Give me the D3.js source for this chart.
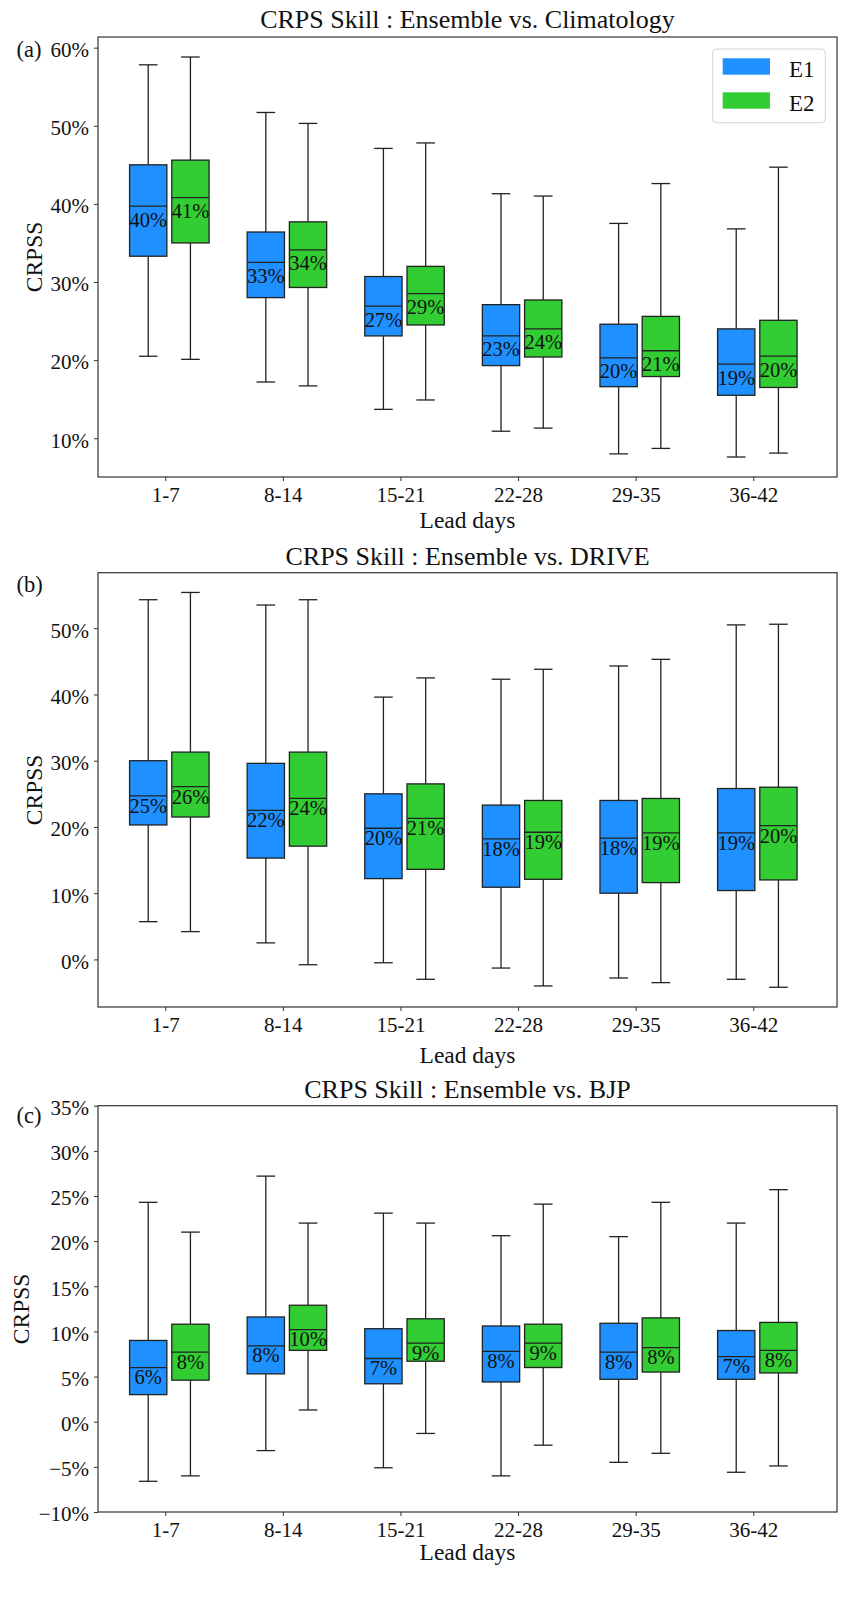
<!DOCTYPE html>
<html>
<head>
<meta charset="utf-8">
<script src="https://cdn.jsdelivr.net/npm/d3@7"></script>
<style>
  body { margin: 0; background: #fff; }
  svg text { font-family: "Liberation Serif", "Times New Roman", serif !important; fill: #111; }
</style>
</head>
<body>
<div id="chart"></div>
<script>
// lead time groups and the two ensembles
const leadDays = ["1-7", "8-14", "15-21", "22-28", "29-35", "36-42"];
const seriesNames = ["E1", "E2"];
const seriesColors = ["#1e90ff", "#32cd32"];

// each box: [low whisker, q1, median, q3, high whisker]
const climE1 = [
  [0.205, 0.333, 0.397, 0.450, 0.578],
  [0.172, 0.280, 0.325, 0.364, 0.517],
  [0.137, 0.231, 0.269, 0.307, 0.471],
  [0.109, 0.193, 0.231, 0.271, 0.413],
  [0.080, 0.166, 0.203, 0.246, 0.375],
  [0.076, 0.155, 0.195, 0.240, 0.368]
];
const climE2 = [
  [0.201, 0.350, 0.408, 0.456, 0.588],
  [0.167, 0.293, 0.341, 0.377, 0.503],
  [0.149, 0.245, 0.285, 0.320, 0.478],
  [0.113, 0.204, 0.240, 0.277, 0.410],
  [0.087, 0.179, 0.212, 0.256, 0.426],
  [0.081, 0.165, 0.205, 0.251, 0.447]
];
const climE1Labels = [40, 33, 27, 23, 20, 19];
const climE2Labels = [41, 34, 29, 24, 21, 20];

const driveE1 = [
  [0.057, 0.203, 0.247, 0.300, 0.543],
  [0.025, 0.153, 0.225, 0.296, 0.535],
  [-0.005, 0.122, 0.198, 0.250, 0.396],
  [-0.013, 0.109, 0.182, 0.233, 0.423],
  [-0.028, 0.100, 0.183, 0.240, 0.443],
  [-0.030, 0.104, 0.191, 0.258, 0.505]
];
const driveE2 = [
  [0.042, 0.215, 0.261, 0.313, 0.554],
  [-0.008, 0.171, 0.243, 0.313, 0.543],
  [-0.030, 0.136, 0.213, 0.265, 0.425],
  [-0.040, 0.121, 0.192, 0.240, 0.438],
  [-0.035, 0.116, 0.191, 0.243, 0.453],
  [-0.042, 0.120, 0.202, 0.260, 0.506]
];
const driveE1Labels = [25, 22, 20, 18, 18, 19];
const driveE2Labels = [26, 24, 21, 19, 19, 20];

const bjpE1 = [
  [-0.066, 0.030, 0.060, 0.090, 0.243],
  [-0.032, 0.053, 0.084, 0.116, 0.272],
  [-0.051, 0.042, 0.070, 0.103, 0.231],
  [-0.060, 0.044, 0.078, 0.106, 0.206],
  [-0.045, 0.047, 0.077, 0.109, 0.205],
  [-0.056, 0.047, 0.072, 0.101, 0.220]
];
const bjpE2 = [
  [-0.060, 0.046, 0.077, 0.108, 0.210],
  [0.013, 0.079, 0.102, 0.129, 0.220],
  [-0.013, 0.067, 0.087, 0.114, 0.220],
  [-0.026, 0.060, 0.087, 0.108, 0.241],
  [-0.035, 0.055, 0.082, 0.115, 0.243],
  [-0.049, 0.054, 0.079, 0.110, 0.257]
];
const bjpE1Labels = [6, 8, 7, 8, 8, 7];
const bjpE2Labels = [8, 10, 9, 9, 8, 8];

const climTicks = [0.1, 0.2, 0.3, 0.4, 0.5, 0.6];
const driveTicks = [0, 0.1, 0.2, 0.3, 0.4, 0.5];
const bjpTicks = [-0.1, -0.05, 0, 0.05, 0.1, 0.15, 0.2, 0.25, 0.3, 0.35];

const W = 843, H = 1606;
const plotLeft = 98, plotRight = 837;
const boxOffsets = [-0.145, 0.214];
const boxWidth = 0.317;
const serif = '"Liberation Serif", "Times New Roman", serif';

const panels = [
  { tag: "(a)", title: "CRPS Skill : Ensemble vs. Climatology", boxes: [climE1, climE2],
    labels: [climE1Labels, climE2Labels], ticks: climTicks, domain: null,
    top: 37, bottom: 477, titleY: 28, tagY: 57, leadY: 528, labelDy: 20.5, ylabelX: 41.5, legend: true },
  { tag: "(b)", title: "CRPS Skill : Ensemble vs. DRIVE", boxes: [driveE1, driveE2],
    labels: [driveE1Labels, driveE2Labels], ticks: driveTicks, domain: null,
    top: 572.7, bottom: 1007, titleY: 565, tagY: 592, leadY: 1062.5, labelDy: 17, ylabelX: 41.5, legend: false },
  { tag: "(c)", title: "CRPS Skill : Ensemble vs. BJP", boxes: [bjpE1, bjpE2],
    labels: [bjpE1Labels, bjpE2Labels], ticks: bjpTicks, domain: [-0.1, 0.35],
    top: 1105.7, bottom: 1512, titleY: 1098, tagY: 1123, leadY: 1559.5, labelDy: 16.4, ylabelX: 29.3, legend: false }
];

const svg = d3.select("#chart").append("svg")
  .attr("width", W)
  .attr("height", H)
  .attr("font-family", serif);

const x = d3.scaleLinear().domain([0.428, 6.712]).range([plotLeft, plotRight]);
const pct = d3.format(".0%");
const ink = "#222";

panels.forEach(function(p) {
  let domain = p.domain;
  if (!domain) {
    // matplotlib style auto limits: data range plus 5% margins
    const all = p.boxes.flat(2);
    const lo = d3.min(all), hi = d3.max(all), pad = (hi - lo) * 0.05;
    domain = [lo - pad, hi + pad];
  }
  const y = d3.scaleLinear().domain(domain).range([p.bottom, p.top]);
  const g = svg.append("g");

  // boxes
  p.boxes.forEach(function(series, s) {
    series.forEach(function(b, i) {
      const cx = i + 1 + boxOffsets[s];
      const x0 = x(cx - boxWidth / 2), x1 = x(cx + boxWidth / 2);
      const xc = x(cx);
      const capHalf = (x1 - x0) / 4;
      const bg = g.append("g");
      // whiskers
      bg.append("line").attr("x1", xc).attr("x2", xc).attr("y1", y(b[3])).attr("y2", y(b[4]))
        .attr("stroke", ink).attr("stroke-width", 1.3);
      bg.append("line").attr("x1", xc).attr("x2", xc).attr("y1", y(b[1])).attr("y2", y(b[0]))
        .attr("stroke", ink).attr("stroke-width", 1.3);
      // caps
      [b[0], b[4]].forEach(function(v) {
        bg.append("line").attr("x1", xc - capHalf).attr("x2", xc + capHalf)
          .attr("y1", y(v)).attr("y2", y(v))
          .attr("stroke", ink).attr("stroke-width", 1.3);
      });
      bg.append("rect")
        .attr("x", x0).attr("y", y(b[3]))
        .attr("width", x1 - x0).attr("height", y(b[1]) - y(b[3]))
        .attr("fill", seriesColors[s])
        .attr("stroke", ink).attr("stroke-width", 1.3);
      bg.append("line").attr("x1", x0).attr("x2", x1).attr("y1", y(b[2])).attr("y2", y(b[2]))
        .attr("stroke", ink).attr("stroke-width", 1.3);
      bg.append("text")
        .attr("x", xc).attr("y", y(b[2]) + p.labelDy)
        .attr("text-anchor", "middle")
        .style("font-family", serif)
        .style("font-size", "20.5px")
        .text(p.labels[s][i] + "%");
    });
  });

  // frame
  g.append("rect")
    .attr("x", plotLeft).attr("y", p.top)
    .attr("width", plotRight - plotLeft).attr("height", p.bottom - p.top)
    .attr("fill", "none").attr("stroke", "#333").attr("stroke-width", 1.2);

  // y axis
  const yAxis = d3.axisLeft(y).tickValues(p.ticks).tickFormat(pct).tickSize(4).tickPadding(5);
  const ya = g.append("g").attr("transform", "translate(" + plotLeft + ",0)").call(yAxis)
    .attr("font-family", serif).attr("font-size", null);
  ya.select(".domain").remove();
  ya.selectAll(".tick line").attr("stroke", "#333").attr("stroke-width", 1);
  ya.selectAll(".tick text").style("font-family", serif).style("font-size", "21px")
    .attr("fill", "#111").attr("dy", "0.42em");

  // x axis
  const xa = g.append("g").attr("transform", "translate(0," + p.bottom + ")")
    .call(d3.axisBottom(x).tickValues(d3.range(1, leadDays.length + 1))
      .tickFormat(function(d) { return leadDays[d - 1]; }).tickSize(4).tickPadding(5))
    .attr("font-family", serif).attr("font-size", null);
  xa.select(".domain").remove();
  xa.selectAll(".tick line").attr("stroke", "#333").attr("stroke-width", 1);
  xa.selectAll(".tick text").style("font-family", serif).style("font-size", "21px")
    .attr("fill", "#111").attr("dy", null).attr("y", 25);

  // titles and labels
  const midX = (plotLeft + plotRight) / 2;
  g.append("text").attr("x", midX).attr("y", p.titleY).attr("text-anchor", "middle")
    .style("font-size", "26px").text(p.title);
  g.append("text").attr("x", 16.5).attr("y", p.tagY).style("font-size", "22.5px").text(p.tag);
  g.append("text").attr("x", midX).attr("y", p.leadY).attr("text-anchor", "middle")
    .style("font-size", "23.5px").text("Lead days");
  g.append("text")
    .attr("transform", "translate(" + p.ylabelX + "," + ((p.top + p.bottom) / 2) + ") rotate(-90)")
    .attr("text-anchor", "middle")
    .style("font-size", "23.5px").text("CRPSS");

  if (p.legend) {
    const lg = g.append("g");
    lg.append("rect").attr("x", 712.7).attr("y", 49).attr("width", 112.6).attr("height", 73.7)
      .attr("rx", 4).attr("fill", "#fff").attr("fill-opacity", 0.8)
      .attr("stroke", "#d4d4d4").attr("stroke-width", 1);
    seriesNames.forEach(function(name, s) {
      lg.append("rect").attr("x", 722.7).attr("y", 58.3 + s * 34)
        .attr("width", 47.3).attr("height", 16.4).attr("fill", seriesColors[s]);
      lg.append("text").attr("x", 789).attr("y", 76.5 + s * 34)
        .style("font-size", "23px").text(name);
    });
  }
});
</script>
</body>
</html>
